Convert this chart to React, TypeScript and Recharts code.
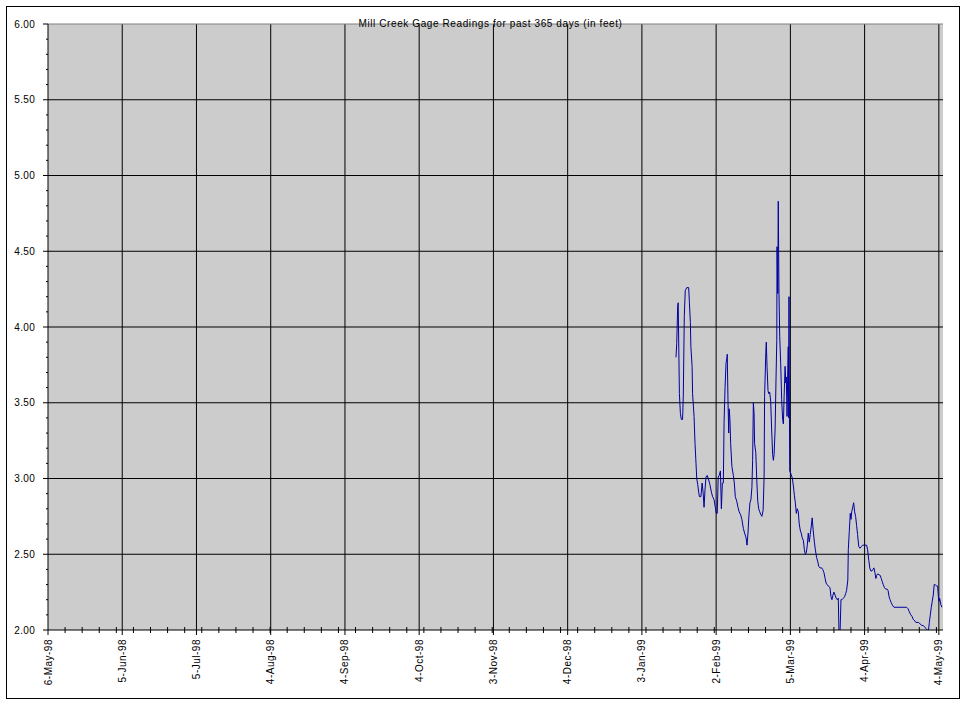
import React from 'react';
import { LineChart, Line, XAxis, YAxis, CartesianGrid, ReferenceLine } from 'recharts';

// x positions are days after 6-May-98
const days = [
  257.3, 257.6, 258.0, 258.2, 258.7, 259.1, 259.5, 260.0, 260.3, 260.7,
  261.1, 261.7, 262.5, 262.8, 263.2, 263.4, 263.9, 264.1, 264.7, 265.1,
  265.5, 265.8, 266.2, 266.6, 266.9, 267.5, 268.0, 268.4, 268.8, 269.2,
  269.6, 270.1, 270.7, 271.2, 271.8, 272.3, 272.9, 273.4, 273.8, 274.2,
  274.6, 275.0, 275.5, 275.9, 276.3, 276.7, 277.0, 277.4, 277.8, 278.2,
  278.3, 278.6, 278.9, 279.1, 279.4, 279.7, 280.2, 280.8, 281.2, 281.6,
  282.2, 282.7, 283.2, 283.8, 284.3, 284.9, 285.4, 286.0, 286.4, 286.8,
  287.2, 287.6, 288.0, 288.4, 288.7, 289.0, 289.3, 289.5, 290.0, 290.4,
  290.8, 291.2, 291.6, 292.1, 292.5, 293.0, 293.4, 293.6, 294.1, 294.3,
  294.6, 295.0, 295.3, 295.7, 296.1, 296.5, 296.9, 297.2, 297.5, 297.9,
  298.3, 298.6, 298.7, 299.0, 299.2, 299.5, 299.8, 300.2, 300.6, 301.0,
  301.3, 301.6, 302.0, 302.3, 302.5, 302.8, 303.1, 303.3, 303.5, 303.6,
  303.7, 303.9, 304.4, 305.0, 305.4, 305.8, 306.2, 306.6, 307.0, 307.4,
  307.8, 308.2, 308.6, 309.0, 309.5, 309.9, 310.3, 310.7, 311.1, 311.5,
  311.9, 312.3, 312.7, 313.1, 313.5, 314.0, 314.4, 314.9, 315.4, 315.8,
  316.3, 317.0, 317.4, 317.9, 318.4, 318.8, 319.2, 319.7, 320.4, 320.8,
  321.2, 321.6, 322.0, 322.5, 322.9, 323.4, 323.8, 324.1, 324.5, 324.9,
  325.3, 325.9, 326.4, 326.8, 327.2, 327.7, 327.9, 328.3, 328.7, 329.0,
  329.3, 329.7, 330.1, 330.5, 330.9, 331.3, 331.7, 332.2, 332.7, 333.2,
  333.8, 335.4, 335.8, 336.3, 336.7, 337.1, 337.6, 338.0, 338.4, 338.8,
  339.2, 339.5, 339.9, 341.0, 341.4, 341.8, 342.2, 342.7, 343.2, 343.8,
  344.2, 344.6, 345.0, 345.5, 346.1, 346.6, 351.8, 352.4, 352.9, 353.5,
  354.0, 354.5, 355.2, 355.6, 356.7, 357.3, 358.0, 358.6, 359.2, 359.7,
  360.3, 360.7, 361.1, 361.5, 361.9, 362.3, 362.7, 363.1, 363.5, 364.1,
  364.5, 364.8, 365.1, 365.3, 365.8, 366.2,
];

// gage readings in feet
const levels = [
  3.80, 3.89, 4.14, 4.16, 3.56, 3.43, 3.39, 3.39, 3.55, 4.07,
  4.24, 4.26, 4.26, 4.16, 4.03, 3.87, 3.74, 3.56, 3.41, 3.23,
  3.10, 3.00, 2.96, 2.91, 2.88, 2.88, 2.97, 2.91, 2.81, 2.93,
  3.01, 3.02, 2.99, 2.96, 2.91, 2.88, 2.86, 2.81, 2.77, 2.77,
  3.01, 3.02, 3.05, 2.80, 2.97, 2.97, 3.37, 3.60, 3.76, 3.80,
  3.82, 3.52, 3.30, 3.46, 3.39, 3.23, 3.08, 3.02, 2.97, 2.88,
  2.85, 2.81, 2.78, 2.76, 2.73, 2.67, 2.64, 2.61, 2.56, 2.64,
  2.76, 2.84, 2.86, 2.94, 3.12, 3.50, 3.43, 3.23, 3.17, 2.99,
  2.85, 2.80, 2.78, 2.76, 2.75, 2.79, 3.01, 3.54, 3.83, 3.90,
  3.74, 3.58, 3.56, 3.57, 3.51, 3.32, 3.16, 3.12, 3.16, 3.32,
  3.67, 3.91, 4.53, 4.22, 4.83, 4.22, 3.94, 3.76, 3.52, 3.39,
  3.36, 3.54, 3.74, 3.63, 3.67, 3.41, 3.72, 3.87, 3.40, 4.20,
  3.69, 3.05, 3.03, 3.00, 2.95, 2.89, 2.84, 2.77, 2.80, 2.78,
  2.70, 2.66, 2.64, 2.61, 2.59, 2.53, 2.50, 2.51, 2.56, 2.64,
  2.58, 2.63, 2.68, 2.74, 2.66, 2.58, 2.53, 2.48, 2.45, 2.42,
  2.41, 2.41, 2.40, 2.38, 2.34, 2.31, 2.30, 2.29, 2.28, 2.22,
  2.20, 2.23, 2.25, 2.23, 2.21, 2.20, 2.21, 1.97, 1.97, 2.20,
  2.20, 2.21, 2.22, 2.24, 2.26, 2.33, 2.53, 2.65, 2.77, 2.73,
  2.78, 2.81, 2.84, 2.78, 2.75, 2.69, 2.63, 2.55, 2.54, 2.55,
  2.56, 2.56, 2.53, 2.46, 2.41, 2.39, 2.39, 2.40, 2.41, 2.38,
  2.34, 2.36, 2.37, 2.36, 2.34, 2.32, 2.30, 2.28, 2.27, 2.27,
  2.26, 2.22, 2.20, 2.18, 2.16, 2.15, 2.15, 2.14, 2.12, 2.10,
  2.09, 2.07, 2.06, 2.05, 2.05, 2.04, 2.03, 2.03, 2.02, 2.01,
  2.00, 1.99, 2.05, 2.10, 2.15, 2.19, 2.23, 2.30, 2.30, 2.29,
  2.29, 2.22, 2.19, 2.21, 2.17, 2.15,
];

const dateLabels = [
  '6-May-98', '5-Jun-98', '5-Jul-98', '4-Aug-98', '4-Sep-98', '4-Oct-98', '3-Nov-98',
  '4-Dec-98', '3-Jan-99', '2-Feb-99', '5-Mar-99', '4-Apr-99', '4-May-99',
];
const majorDays = [0, 30.42, 60.83, 91.25, 121.67, 152.08, 182.5, 212.92, 243.33, 273.75, 304.17, 334.58, 365];
const minorDays = [
  7, 14, 21, 28, 35, 42, 49, 56, 63, 70, 77, 84, 91, 98, 105, 112, 119, 126, 133, 140,
  147, 154, 161, 168, 175, 182, 189, 196, 203, 210, 217, 224, 231, 238, 245, 252, 259,
  266, 273, 280, 287, 294, 301, 308, 315, 322, 329, 336, 343, 350, 357, 364,
];
const xTicks = [...majorDays, ...minorDays].sort((a, b) => a - b);

const majorLevels = [2.0, 2.5, 3.0, 3.5, 4.0, 4.5, 5.0, 5.5, 6.0];
const levelTicks = [
  2.0, 2.1, 2.2, 2.3, 2.4, 2.5, 2.6, 2.7, 2.8, 2.9, 3.0, 3.1, 3.2, 3.3, 3.4, 3.5, 3.6, 3.7, 3.8, 3.9,
  4.0, 4.1, 4.2, 4.3, 4.4, 4.5, 4.6, 4.7, 4.8, 4.9, 5.0, 5.1, 5.2, 5.3, 5.4, 5.5, 5.6, 5.7, 5.8, 5.9, 6.0,
];

const TITLE = 'Mill Creek Gage Readings for past 365 days (in feet)';
const FONT = "'Liberation Sans', Arial, sans-serif";

const data = days.map((d, i) => ({ day: d, level: levels[i] }));

const XTick = (props: any) => {
  const { x, y, payload } = props;
  const idx = majorDays.indexOf(payload.value);
  if (idx >= 0) {
    return (
      <g>
        <line x1={x} x2={x} y1={y} y2={y + 5} stroke="#000" />
        <text
          transform={`translate(${x + 3.5},${y + 9}) rotate(-90)`}
          textAnchor="end"
          fontSize={10}
          fontFamily={FONT}
          letterSpacing={0.5}
          fill="#000"
        >
          {dateLabels[idx]}
        </text>
      </g>
    );
  }
  return <line x1={x} x2={x} y1={y - 3} y2={y + 3} stroke="#000" />;
};

const YTick = (props: any) => {
  const { x, y, payload } = props;
  const v = payload.value;
  const major = majorLevels.some((m) => Math.abs(m - v) < 1e-6);
  if (major) {
    return (
      <g>
        <line x1={x - 5} x2={x} y1={y} y2={y} stroke="#000" />
        <text x={x - 13} y={y} dy={3.6} textAnchor="end" fontSize={10} fontFamily={FONT} letterSpacing={0.3} fill="#000">
          {v.toFixed(2)}
        </text>
      </g>
    );
  }
  return <line x1={x - 2} x2={x} y1={y} y2={y} stroke="#000" />;
};

export default function App() {
  return (
    <div style={{ position: 'absolute', left: 0, top: 0, width: 964, height: 703, background: '#fff' }}>
      <div
        style={{
          position: 'absolute',
          left: 6,
          top: 6,
          width: 954,
          height: 693,
          border: '1px solid #000',
          boxSizing: 'border-box',
        }}
      />
      <div style={{ position: 'absolute', left: 0, top: 0 }}>
        <LineChart width={964} height={703} data={data} margin={{ top: 24, right: 21, bottom: 0, left: 0 }}>
          <CartesianGrid
            fill="#CCCCCC"
            fillOpacity={1}
            stroke="#000"
            horizontalValues={majorLevels.slice(1, -1)}
            verticalValues={majorDays.slice(1)}
          />
          <ReferenceLine y={6} stroke="#808080" />
          <XAxis
            dataKey="day"
            type="number"
            domain={[0, 366.7]}
            allowDataOverflow
            ticks={xTicks}
            interval={0}
            tickSize={0}
            tickMargin={0}
            tickLine={false}
            tick={<XTick />}
            height={73}
            axisLine={{ stroke: '#000' }}
          />
          <YAxis
            type="number"
            domain={[2, 6]}
            allowDataOverflow
            ticks={levelTicks}
            interval={0}
            tickSize={0}
            tickMargin={0}
            tickLine={false}
            tick={<YTick />}
            width={48}
            axisLine={{ stroke: '#000' }}
          />
          <Line
            dataKey="level"
            type="linear"
            stroke="#0000A0"
            strokeWidth={1}
            dot={false}
            activeDot={false}
            isAnimationActive={false}
          />
        </LineChart>
      </div>
      <div
        style={{
          position: 'absolute',
          left: 0,
          top: 17.5,
          width: 981,
          textAlign: 'center',
          fontFamily: FONT,
          fontSize: 10,
          lineHeight: '12px',
          letterSpacing: 0.6,
          color: '#000',
          whiteSpace: 'nowrap',
          pointerEvents: 'none',
        }}
      >
        {TITLE}
      </div>
    </div>
  );
}
